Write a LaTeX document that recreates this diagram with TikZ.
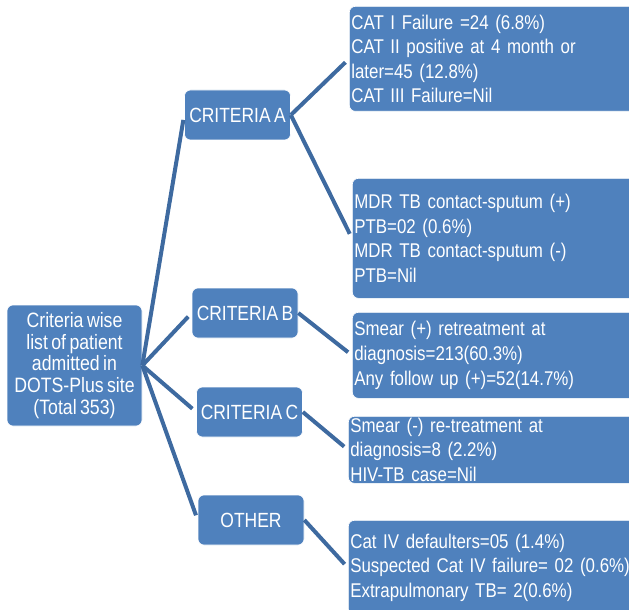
\documentclass[tikz,border=0pt]{standalone}
\usepackage{fontspec}
\setmainfont[FakeStretch=0.85,WordSpace={0.7,0,0}]{Liberation Sans}
\definecolor{boxblue}{RGB}{79,129,189}
\definecolor{linkblue}{RGB}{62,106,160}
\tikzset{
  box/.style={draw=white, line width=0.5pt, fill=boxblue, text=white, rounded corners=4.5pt},
  critbox/.style={box, minimum width=79.5pt, minimum height=37.5pt, inner sep=0pt,
    font=\fontsize{15.4}{18}\selectfont},
  infobox/.style={box, anchor=north west, align=left, text width=225pt, inner xsep=1.5pt,
    inner ysep=0pt, font=\fontsize{14.9}{18.4}\selectfont},
  link/.style={draw=linkblue, line width=3pt, shorten >=3.75pt}
}
\begin{document}
\begin{tikzpicture}[x=0.75pt,y=0.75pt,yscale=-1,xscale=1]
\clip (0,0) rectangle (629,610);

% Root box
\node [box, minimum width=101.25pt, minimum height=90.75pt, inner sep=0pt, align=center,
  font=\fontsize{15.6}{16.3}\selectfont] (root) at (74.5,365.5)
  {Criteria wise\\list of patient\\admitted in\\DOTS-Plus site\\(Total 353)};

% Criteria boxes
\node [critbox] (critA) at (237.5,115) {CRITERIA A};
\node [critbox] (critB) at (245,313) {CRITERIA B};
\node [critbox] (critC) at (249.5,412) {CRITERIA C};
\node [critbox] (other) at (251,520) {OTHER};

% Detail boxes
\node [infobox, minimum height=78.75pt] (catA) at (349,6)
  {CAT I Failure =24 (6.8\%)\\CAT II positive at 4 month or\\later=45 (12.8\%)\\CAT III Failure=Nil};
\node [infobox, minimum height=90pt] (mdrA) at (352,178)
  {MDR TB contact-sputum (+)\\PTB=02 (0.6\%)\\MDR TB contact-sputum (-)\\PTB=Nil};
\node [infobox, minimum height=64.5pt] (smearB) at (352,312)
  {Smear (+) retreatment at\\diagnosis=213(60.3\%)\\Any follow up (+)=52(14.7\%)};
\node [infobox, minimum height=50.25pt] (smearC) at (348,416)
  {Smear (-) re-treatment at\\diagnosis=8 (2.2\%)\\HIV-TB case=Nil};
\node [infobox, minimum height=71.25pt] (catO) at (348,520)
  {Cat IV defaulters=05 (1.4\%)\\Suspected Cat IV failure= 02 (0.6\%)\\Extrapulmonary TB= 2(0.6\%)};

% Connectors
\draw [link] (root.east) -- (critA.west);
\draw [link] (root.east) -- (critB.west);
\draw [link] (root.east) -- (critC.west);
\draw [link] (root.east) -- (other.west);
\draw [link] (critA.east) -- (catA.west);
\draw [link] (critA.east) -- (mdrA.west);
\draw [link] (critB.east) -- (smearB.west);
\draw [link] (critC.east) -- (smearC.west);
\draw [link] (other.east) -- (catO.west);

\end{tikzpicture}
\end{document}
